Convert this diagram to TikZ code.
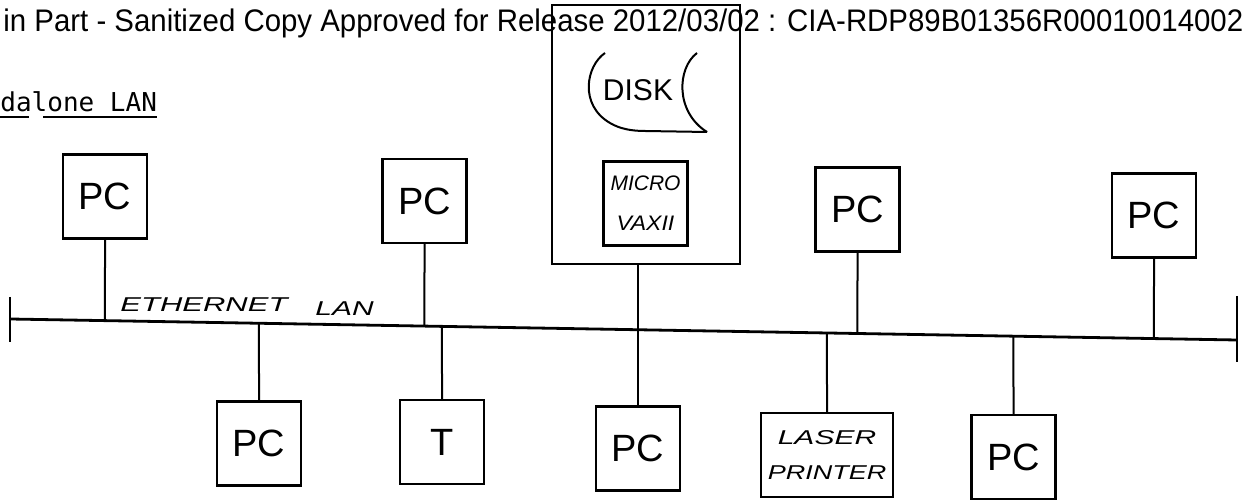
\documentclass[tikz,border=0pt]{standalone}
\usepackage{fontspec}
\setmainfont{Liberation Sans}
\newfontfamily\typefont{DejaVu Sans Mono}
\usetikzlibrary{calc}
\begin{document}
\begin{tikzpicture}[x=0.5pt,y=-0.5pt,
  unit/.style={draw, line width=1.2pt, inner sep=0pt, minimum width=42pt, minimum height=42pt,
               font=\fontsize{19}{19}\selectfont},
  stem/.style={line width=1pt},
  bus/.style={line width=1.4pt},
  hand/.style={inner sep=0pt, font=\fontsize{10}{10}\selectfont\itshape},
  frameline/.style={line width=1.1pt}
]
\useasboundingbox (0,0) rectangle (1242,501);

% outer frame of the microVAX station
\node[draw, frameline, minimum width=94pt, minimum height=129.5pt, inner sep=0pt] (frame) at (646,134.5) {};

% header
\node[anchor=base west, inner sep=0pt] (hdr) at (3,32)
  {\resizebox{620pt}{11.3pt}{in Part - Sanitized Copy Approved for Release 2012/03/02 : CIA-RDP89B01356R00010014002}};

% subtitle
\node[anchor=base west, inner sep=0pt, font=\typefont\fontsize{13}{13}\selectfont] (title) at (0,112) {dalone LAN};
\draw[line width=0.8pt] ($(title.base west)+(0,5)$) -- ++(29,0);
\draw[line width=0.8pt] ($(title.base west)+(43,5)$) -- ++(114,0);

% disk symbol
\draw[line width=1pt] (605,53) .. controls (586,66) and (579,105) .. (610,123)
  .. controls (620,129) and (632,131) .. (645,131) -- (707,132);
\draw[line width=1pt] (697,53) .. controls (677,68) and (675,112) .. (707,132);
\node[inner sep=0pt, font=\fontsize{15}{15}\selectfont] (disk) at (638,90) {DISK};

% microVAX
\node[unit, align=center, font=\fontsize{10.5}{20}\selectfont\itshape] (vax) at (645.5,203.5)
  {MICRO\\\scalebox{1.1}[1]{VAXII}};

% top row
\node[unit] (pcA) at (105,196.5) {PC};
\node[unit] (pcB) at (424.5,201) {PC};
\node[unit] (pcC) at (857.5,209.5) {PC};
\node[unit] (pcD) at (1154,215.5) {PC};

% bottom row
\node[unit] (pcE) at (259,443.5) {PC};
\node[unit] (tT) at (442,442) {T};
\node[unit] (pcF) at (638,448.5) {PC};
\node[unit, minimum width=66pt, align=center, font=\fontsize{10}{17.5}\selectfont\itshape] (laser) at (827,455)
  {\scalebox{1.5}[1]{LASER}\\\scalebox{1.35}[1]{PRINTER}};
\node[unit] (pcG) at (1013.5,457) {PC};

% bus
\coordinate (L) at (10,319);
\coordinate (R) at (1237,340);
\draw[bus] (L) -- (R);
\draw[bus] ($(L)+(0,-22)$) -- ($(L)+(0,23)$);
\draw[bus] ($(R)+(0,-44)$) -- ($(R)+(0,22)$);

\node[hand, anchor=base west] (eth) at (120,312) {\scalebox{1.55}[1]{ETHERNET}};
\node[hand, anchor=base west] (lan) at (315,316) {\scalebox{1.5}[1]{LAN}};

% stems
\foreach \n in {pcA,pcB,pcC,pcD}
  \draw[stem] (\n.south) -- (intersection of L--R and \n.south--\n.north);
\foreach \n in {pcE,tT,laser,pcG}
  \draw[stem] (\n.north) -- (intersection of L--R and \n.north--\n.south);
\draw[stem] (pcF.north |- frame.south) -- (pcF.north);
\end{tikzpicture}
\end{document}
